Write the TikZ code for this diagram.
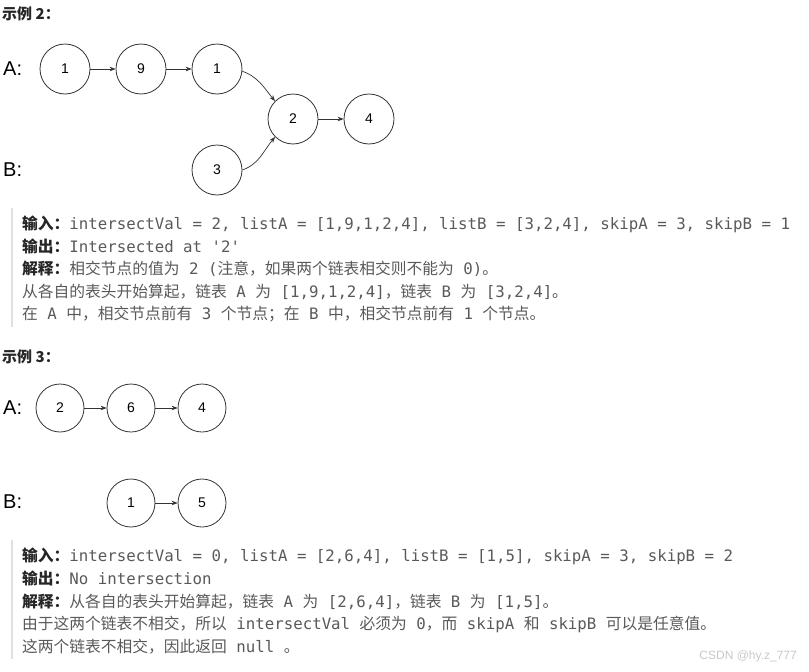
\documentclass[tikz,border=0pt]{standalone}
\usepackage{fontspec}
\setmainfont{Liberation Sans}
\newfontfamily\cjkfont{Noto Sans CJK SC}
\newfontfamily\monofont{DejaVu Sans Mono}
\usetikzlibrary{arrows.meta}
\definecolor{txt}{HTML}{595959}
\definecolor{lab}{HTML}{262626}
\definecolor{barc}{HTML}{E0E0E0}
\definecolor{ln}{HTML}{333333}
\definecolor{wm}{HTML}{C8C8C8}
\newcommand\cj[1]{{\cjkfont #1}}
\newcommand\lab[1]{{\color{lab}\cjkfont\bfseries #1}}
\tikzset{
 nd/.style={circle, draw=ln, line width=0.8pt, minimum size=50pt, inner sep=0pt, font=\fontsize{14}{14}\selectfont},
 ndsmall/.style={nd, minimum size=48pt},
 lbl/.style={font=\fontsize{20}{20}\selectfont, anchor=west, inner sep=0pt},
 arr/.style={draw=ln, line width=0.7pt, -{Stealth[length=6pt,width=4.5pt]}},
 txtline/.style={anchor=base west, inner sep=0pt, text=txt, font=\monofont\fontsize{15.75}{18}\selectfont},
 hdr/.style={anchor=base west, inner sep=0pt, text=lab, font=\cjkfont\bfseries\fontsize{15}{18}\selectfont},
 vbar/.style={draw=barc, line width=2pt}
}
\begin{document}
\begin{tikzpicture}[x=1pt,y=-1pt]
\useasboundingbox (0,0) rectangle (809,672);
% ---------- Example 2 ----------
\node[hdr] (h1) at (2,19) {示例 2：};
\node[lbl] (la1) at (3,69) {A:};
\node[lbl] (lb1) at (3,170) {B:};
\node[nd] (a1) at (65,69) {1};
\node[nd] (a2) at (141,69) {9};
\node[nd] (a3) at (217,69) {1};
\node[nd] (m) at (293,119) {2};
\node[nd] (e) at (369,119) {4};
\node[nd] (b1) at (217,170) {3};
\draw[arr] (a1) -- (a2);
\draw[arr] (a2) -- (a3);
\draw[arr] (m) -- (e);
\draw[arr] (a3.-5) to[out=-20,in=130] (m.135);
\draw[arr] (b1.0) to[out=20,in=-130] (m.225);
\coordinate (bt1) at (12,208);
\coordinate (bb1) at (12,327);
\draw[vbar] (bt1) -- (bb1);
\node[txtline] (t1) at (22,229) {\lab{输入：}intersectVal = 2, listA = [1,9,1,2,4], listB = [3,2,4], skipA = 3, skipB = 1};
\node[txtline] (t2) at (22,252) {\lab{输出：}Intersected at '2'};
\node[txtline] (t3) at (22,274) {\lab{解释：}\cj{相交节点的值为} 2 (\cj{注意，如果两个链表相交则不能为} 0)\cj{。}};
\node[txtline] (t4) at (22,297) {\cj{从各自的表头开始算起，链表} A \cj{为} [1,9,1,2,4]\cj{，链表} B \cj{为} [3,2,4]\cj{。}};
\node[txtline] (t5) at (22,319) {\cj{在} A \cj{中，相交节点前有} 3 \cj{个节点；在} B \cj{中，相交节点前有} 1 \cj{个节点。}};
% ---------- Example 3 ----------
\node[hdr] (h2) at (2,362) {示例 3：};
\node[lbl] (la2) at (3,408) {A:};
\node[lbl] (lb2) at (3,502) {B:};
\node[ndsmall] (c1) at (60,408) {2};
\node[ndsmall] (c2) at (131,408) {6};
\node[ndsmall] (c3) at (202,408) {4};
\node[ndsmall] (d1) at (131,503) {1};
\node[ndsmall] (d2) at (202,503) {5};
\draw[arr] (c1) -- (c2);
\draw[arr] (c2) -- (c3);
\draw[arr] (d1) -- (d2);
\coordinate (bt2) at (12,540);
\coordinate (bb2) at (12,659);
\draw[vbar] (bt2) -- (bb2);
\node[txtline] (s1) at (22,561) {\lab{输入：}intersectVal = 0, listA = [2,6,4], listB = [1,5], skipA = 3, skipB = 2};
\node[txtline] (s2) at (22,584) {\lab{输出：}No intersection};
\node[txtline] (s3) at (22,607) {\lab{解释：}\cj{从各自的表头开始算起，链表} A \cj{为} [2,6,4]\cj{，链表} B \cj{为} [1,5]\cj{。}};
\node[txtline] (s4) at (22,629) {\cj{由于这两个链表不相交，所以} intersectVal \cj{必须为} 0\cj{，而} skipA \cj{和} skipB \cj{可以是任意值。}};
\node[txtline] (s5) at (22,652) {\cj{这两个链表不相交，因此返回} null \cj{。}};
\node[anchor=east, inner sep=0pt, text=wm, font=\fontsize{12}{12}\selectfont] (w) at (797,656) {CSDN @hy.z\_777};
\end{tikzpicture}
\end{document}
